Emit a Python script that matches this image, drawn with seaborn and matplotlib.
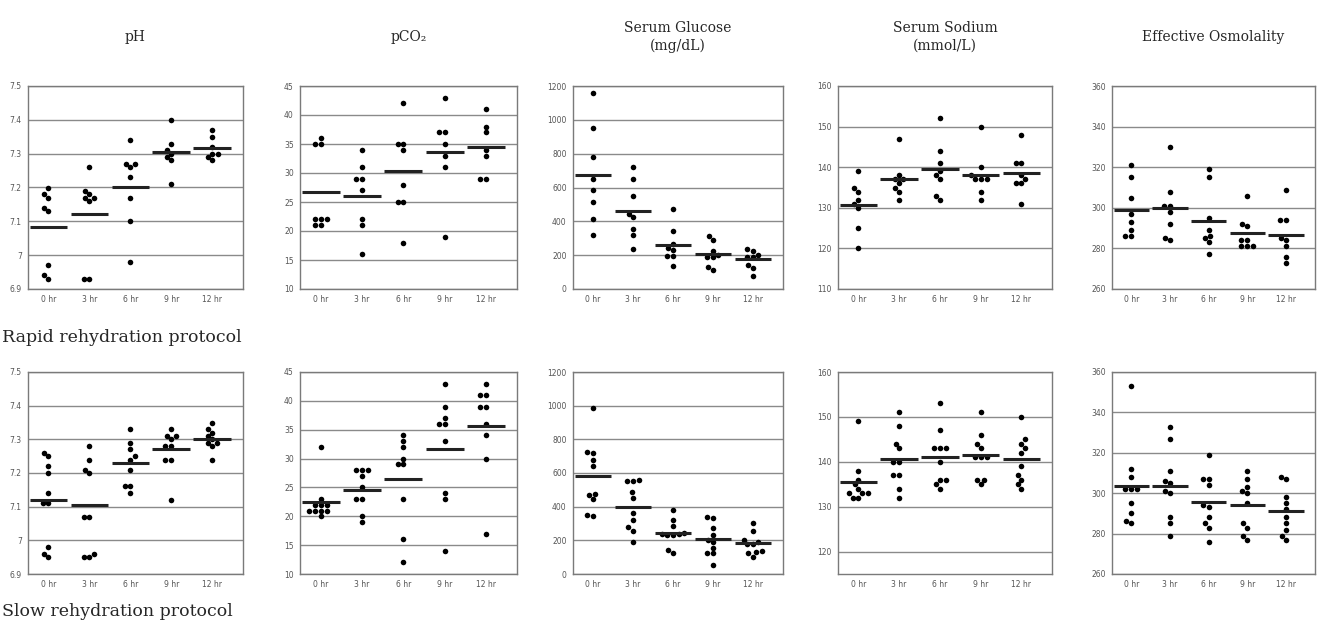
import numpy as np
import pandas as pd
import matplotlib.pyplot as plt
import seaborn as sns
from matplotlib.ticker import MultipleLocator, AutoMinorLocator, FuncFormatter

times = ["0 hr", "3 hr", "6 hr", "9 hr", "12 hr"]

# Rapid rehydration protocol
ph_rapid = [
    [7.20, 7.18, 7.17, 7.14, 7.13, 6.97, 6.94, 6.93],
    [7.26, 7.19, 7.18, 7.17, 7.17, 7.16, 6.93, 6.93],
    [7.34, 7.27, 7.27, 7.26, 7.23, 7.17, 7.10, 6.98],
    [7.40, 7.33, 7.31, 7.30, 7.29, 7.28, 7.21],
    [7.37, 7.35, 7.32, 7.30, 7.30, 7.29, 7.28],
]
ph_rapid_mean = [7.083, 7.123, 7.202, 7.304, 7.316]

pco2_rapid = [
    [36, 35, 35, 22, 22, 22, 21, 21],
    [34, 31, 29, 29, 27, 22, 21, 16],
    [42, 35, 35, 34, 28, 25, 25, 18],
    [43, 37, 37, 35, 33, 31, 19],
    [41, 38, 37, 34, 33, 29, 29],
]
pco2_rapid_mean = [26.8, 26.1, 30.3, 33.6, 34.45]

glucose_rapid = [
    [1161, 953, 779, 653, 588, 512, 412, 320],
    [722, 653, 549, 445, 424, 357, 320, 239],
    [475, 340, 265, 245, 228, 194, 194, 137],
    [314, 292, 226, 200, 188, 188, 131, 114],
    [234, 226, 202, 187, 187, 143, 124, 79],
]
glucose_rapid_mean = [675, 461, 261, 208, 175]

sodium_rapid = [
    [139, 135, 134, 132, 131, 130, 125, 120],
    [147, 138, 137, 137, 136, 135, 134, 132],
    [152, 144, 141, 139, 138, 137, 133, 132],
    [150, 140, 138, 137, 137, 137, 134, 132],
    [148, 141, 141, 138, 137, 136, 136, 131],
]
sodium_rapid_mean = [130.7, 137.0, 139.5, 138.0, 138.5]

osmo_rapid = [
    [321, 315, 305, 297, 293, 289, 286, 286],
    [330, 308, 301, 301, 298, 292, 285, 284],
    [319, 315, 295, 289, 286, 285, 283, 277],
    [306, 292, 291, 284, 284, 281, 281, 281],
    [309, 294, 294, 285, 284, 281, 276, 273],
]
osmo_rapid_mean = [299, 300, 293.6, 287.4, 286.6]

# Slow rehydration protocol
ph_slow = [
    [7.26, 7.25, 7.22, 7.20, 7.14, 7.11, 7.11, 6.98, 6.96, 6.95],
    [7.28, 7.24, 7.21, 7.20, 7.07, 7.07, 6.96, 6.95, 6.95],
    [7.33, 7.29, 7.27, 7.25, 7.24, 7.21, 7.16, 7.16, 7.14],
    [7.33, 7.31, 7.31, 7.30, 7.28, 7.28, 7.24, 7.24, 7.12],
    [7.35, 7.33, 7.32, 7.31, 7.30, 7.29, 7.29, 7.28, 7.24],
]
ph_slow_mean = [7.119, 7.105, 7.23, 7.27, 7.302]

pco2_slow = [
    [32, 23, 22, 22, 22, 21, 21, 21, 21, 20],
    [28, 28, 28, 27, 25, 23, 23, 20, 19],
    [34, 33, 32, 30, 29, 29, 23, 16, 12],
    [43, 39, 37, 36, 36, 33, 24, 23, 14],
    [43, 41, 41, 39, 39, 36, 34, 30, 17],
]
pco2_slow_mean = [22.5, 24.5, 26.5, 31.7, 35.6]

glucose_slow = [
    [989, 726, 716, 680, 641, 477, 467, 443, 350, 346],
    [558, 552, 552, 485, 453, 360, 320, 277, 257, 190],
    [380, 320, 285, 245, 240, 240, 230, 230, 145, 125],
    [340, 330, 273, 234, 204, 190, 155, 122, 122, 53],
    [304, 257, 204, 190, 176, 176, 138, 132, 122, 103],
]
glucose_slow_mean = [584, 400, 242, 205, 182]

sodium_slow = [
    [149, 138, 136, 135, 134, 133, 133, 133, 132, 132],
    [151, 148, 144, 143, 140, 140, 137, 137, 134, 132],
    [153, 147, 143, 143, 143, 140, 136, 136, 135, 134],
    [151, 146, 144, 143, 141, 141, 141, 136, 136, 135],
    [150, 145, 144, 143, 142, 139, 137, 136, 135, 134],
]
sodium_slow_mean = [135.5, 140.7, 141.0, 141.4, 140.6]

osmo_slow = [
    [353, 312, 308, 302, 302, 302, 295, 290, 286, 285],
    [333, 327, 311, 306, 305, 301, 300, 288, 285, 279],
    [319, 307, 307, 304, 294, 293, 288, 285, 283, 276],
    [311, 307, 303, 301, 300, 295, 285, 283, 279, 277],
    [308, 307, 298, 295, 292, 288, 285, 282, 279, 277],
]
osmo_slow_mean = [303.7, 303.7, 295.5, 294.2, 291.0]

titles = ["pH", "pCO\u2082", "Serum Glucose\n(mg/dL)", "Serum Sodium\n(mmol/L)",
          "Effective Osmolality"]
row_labels = ["Rapid rehydration protocol", "Slow rehydration protocol"]

# per-column axis setup: (rapid ylim, slow ylim, major step, minor divisions)
col_axes = [
    ((6.9, 7.5), (6.9, 7.5), 0.1, 5),
    ((10, 45), (10, 45), 5, 5),
    ((0, 1200), (0, 1200), 200, 4),
    ((110, 160), (115, 160), 10, 5),
    ((260, 360), (260, 360), 20, 4),
]
rapid_data = [ph_rapid, pco2_rapid, glucose_rapid, sodium_rapid, osmo_rapid]
rapid_means = [ph_rapid_mean, pco2_rapid_mean, glucose_rapid_mean,
               sodium_rapid_mean, osmo_rapid_mean]
slow_data = [ph_slow, pco2_slow, glucose_slow, sodium_slow, osmo_slow]
slow_means = [ph_slow_mean, pco2_slow_mean, glucose_slow_mean,
              sodium_slow_mean, osmo_slow_mean]


def to_long(groups):
    rows = []
    for t, vals in zip(times, groups):
        for v in vals:
            rows.append({"time": t, "value": v})
    return pd.DataFrame(rows)


sns.set_style("white")
W, H = 1317, 629
fig = plt.figure(figsize=(W / 100, H / 100), dpi=100)

# panel placement in pixels
lefts = [28, 300, 573, 838, 1112]
widths = [215, 217, 210, 214, 203]
rows_px = [(86, 289), (372, 574)]

for r, (data_set, mean_set) in enumerate([(rapid_data, rapid_means),
                                          (slow_data, slow_means)]):
    top, bot = rows_px[r]
    for c in range(5):
        ax = fig.add_axes([lefts[c] / W, 1 - bot / H, widths[c] / W, (bot - top) / H])
        df = to_long(data_set[c])
        sns.swarmplot(data=df, x="time", y="value", order=times, color="black",
                      size=4.0, ax=ax, zorder=3)
        pos = np.arange(len(times))
        ax.hlines(mean_set[c], pos - 0.46, pos + 0.46, color="#222222", lw=2.2, zorder=4)

        ylim = col_axes[c][r]
        step, minor = col_axes[c][2], col_axes[c][3]
        ax.set_ylim(*ylim)
        ax.set_xlim(-0.5, len(times) - 0.5)
        ax.yaxis.set_major_locator(MultipleLocator(step))
        ax.yaxis.set_minor_locator(AutoMinorLocator(minor))
        ax.yaxis.set_major_formatter(FuncFormatter(lambda v, _: f"{round(v, 3):g}"))
        ax.set_xticks(pos)
        ax.set_xticklabels(times)
        ax.set_xticks(np.arange(-0.5, len(times), 0.25), minor=True)
        ax.set_xlabel("")
        ax.set_ylabel("")
        ax.yaxis.grid(True, color="#8a8a8a", lw=1)
        ax.set_axisbelow(True)
        for s in ax.spines.values():
            s.set_color("#7a7a7a")
            s.set_linewidth(1)
        ax.tick_params(axis="y", which="major", labelsize=5.5, labelcolor="#555555",
                       color="#7a7a7a", length=3, width=0.8, pad=1.5)
        ax.tick_params(axis="y", which="minor", color="#7a7a7a", length=1.5, width=0.6)
        ax.tick_params(axis="x", which="major", labelsize=5.5, labelcolor="#555555",
                       length=0, pad=4)
        ax.tick_params(axis="x", which="minor", color="#7a7a7a", length=2, width=0.6)

        if r == 0:
            cx = (lefts[c] + widths[c] / 2) / W
            fig.text(cx, 1 - 37 / H, titles[c], ha="center", va="center",
                     fontsize=10, family="DejaVu Serif", linespacing=1.3)

fig.text(2 / W, 1 - 337 / H, row_labels[0], ha="left", va="center",
         fontsize=12.5, family="DejaVu Serif")
fig.text(2 / W, 1 - 612 / H, row_labels[1], ha="left", va="center",
         fontsize=12.5, family="DejaVu Serif")

fig.savefig("out.png", dpi=100)
